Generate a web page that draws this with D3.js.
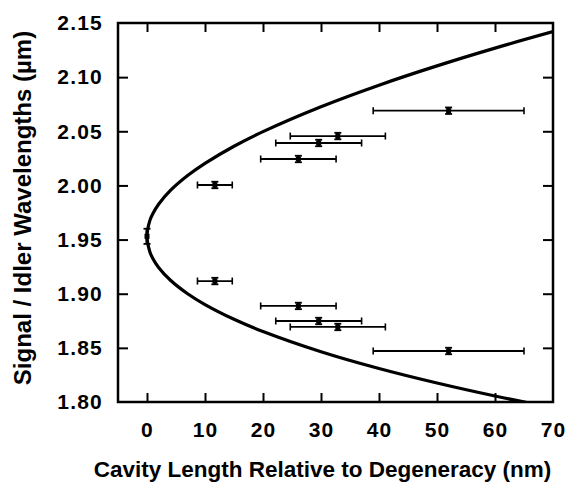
<!DOCTYPE html>
<html>
<head>
<meta charset="utf-8">
<script src="https://cdn.jsdelivr.net/npm/d3@7"></script>
<style>
  html, body { margin: 0; padding: 0; background: #fff; }
  svg { display: block; }
  text { font-family: "Liberation Sans", Arial, Helvetica, sans-serif; fill: #000; }
</style>
</head>
<body>
<svg id="chart" width="567" height="487"></svg>
<script>
// Measured signal / idler wavelength pairs versus cavity length offset
const cavityLength = [11.7, 26.1, 29.6, 32.9, 52.0];
const cavityError  = [3.0, 6.5, 7.4, 8.2, 13.0];
const idlerWavelength  = [2.0004, 2.0244, 2.0392, 2.0456, 2.069];
const signalWavelength = [1.9117, 1.8887, 1.8748, 1.8693, 1.8471];
const wavelengthError = 0.003;

// Degenerate operating point
const degenerateLength = [0];
const degenerateWavelength = [1.953];
const degenerateError = 0.007;

// Calculated tuning curve (upper and lower branches)
const curveLength = [0, 0.5, 1, 2, 4, 7, 10, 15, 20, 30, 40, 50, 60, 70];
const curveUpper  = [1.953, 1.9677, 1.9738, 1.9826, 1.9951, 2.0091, 2.0204, 2.0362, 2.0497, 2.0727, 2.0926, 2.1104, 2.1268, 2.1420];
const curveLower  = [1.953, 1.9386, 1.9326, 1.9243, 1.9127, 1.9000, 1.8900, 1.8764, 1.8651, 1.8464, 1.8309, 1.8175, 1.8055, 1.7947];

// Axis ticks
const xTicks = [0, 10, 20, 30, 40, 50, 60, 70];
const yTicks = [1.80, 1.85, 1.90, 1.95, 2.00, 2.05, 2.10, 2.15];

const svg = d3.select("#chart");
const plotLeft = 118, plotRight = 553, plotTop = 23, plotBottom = 402;

const x = d3.scaleLinear().domain([-5, 70]).range([plotLeft, plotRight]);
const y = d3.scaleLinear().domain([1.80, 2.15]).range([plotBottom, plotTop]);

svg.append("defs").append("clipPath").attr("id", "plot-clip")
  .append("rect").attr("x", plotLeft).attr("y", plotTop)
  .attr("width", plotRight - plotLeft).attr("height", plotBottom - plotTop);

// Tick marks on all four sides, pointing inward
const inner = (v, lo, hi) => v > lo + 1e-9 && v < hi - 1e-9;

const bottomAxis = d3.axisBottom(x).tickValues(xTicks).tickSizeInner(-9).tickSizeOuter(0)
  .tickPadding(20).tickFormat(d3.format("d"));
const gB = svg.append("g").attr("transform", `translate(0,${plotBottom})`).call(bottomAxis);

const leftAxis = d3.axisLeft(y).tickValues(yTicks).tickSizeInner(-10).tickSizeOuter(0)
  .tickPadding(15).tickFormat(d3.format(".2f"));
const gL = svg.append("g").attr("transform", `translate(${plotLeft},0)`).call(leftAxis);

const gT = svg.append("g").attr("transform", `translate(0,${plotTop})`)
  .call(d3.axisTop(x).tickValues(xTicks.filter(v => inner(v, -5, 70)))
    .tickSizeInner(-9).tickSizeOuter(0).tickFormat(""));
const gR = svg.append("g").attr("transform", `translate(${plotRight},0)`)
  .call(d3.axisRight(y).tickValues(yTicks.filter(v => inner(v, 1.80, 2.15)))
    .tickSizeInner(-10).tickSizeOuter(0).tickFormat(""));

[gB, gL, gT, gR].forEach(g => {
  g.select(".domain").remove();
  g.selectAll(".tick line").attr("stroke", "#000").attr("stroke-width", 2);
  g.selectAll(".tick text")
    .style("font-size", "21px").style("font-weight", "bold")
    .style("letter-spacing", "1.2px").attr("fill", "#000");
});
// hide tick marks that coincide with the frame
gB.selectAll(".tick").filter(d => !inner(d, -5, 70)).select("line").remove();
gL.selectAll(".tick").filter(d => !inner(d, 1.80, 2.15)).select("line").remove();

// Frame
svg.append("rect").attr("x", plotLeft).attr("y", plotTop)
  .attr("width", plotRight - plotLeft).attr("height", plotBottom - plotTop)
  .attr("fill", "none").attr("stroke", "#000").attr("stroke-width", 2.5);

// Tuning curve: upper branch from the right edge to the vertex, then the lower branch back out
const curvePts = curveLength.map((l, i) => [l, curveUpper[i]]).reverse()
  .concat(curveLength.slice(1).map((l, i) => [l, curveLower[i + 1]]));
svg.append("path")
  .attr("clip-path", "url(#plot-clip)")
  .attr("d", d3.line().x(d => x(d[0])).y(d => y(d[1])).curve(d3.curveCatmullRom.alpha(0.5))(curvePts))
  .attr("fill", "none").attr("stroke", "#000").attr("stroke-width", 3.2);

// Error-bar points
const points = [];
cavityLength.forEach((l, i) => {
  points.push({ l, dl: cavityError[i], w: idlerWavelength[i], dw: wavelengthError });
  points.push({ l, dl: cavityError[i], w: signalWavelength[i], dw: wavelengthError });
});
degenerateLength.forEach((l, i) => {
  points.push({ l, dl: 0, w: degenerateWavelength[i], dw: degenerateError });
});

const gP = svg.append("g").attr("stroke", "#000");
points.forEach(p => {
  const cx = x(p.l), cy = y(p.w);
  if (p.dl > 0) {
    const x0 = x(p.l - p.dl), x1 = x(p.l + p.dl);
    gP.append("line").attr("x1", x0).attr("x2", x1).attr("y1", cy).attr("y2", cy).attr("stroke-width", 1.8);
    gP.append("line").attr("x1", x0).attr("x2", x0).attr("y1", cy - 3.5).attr("y2", cy + 3.5).attr("stroke-width", 1.6);
    gP.append("line").attr("x1", x1).attr("x2", x1).attr("y1", cy - 3.5).attr("y2", cy + 3.5).attr("stroke-width", 1.6);
  }
  const y0 = y(p.w + p.dw), y1 = y(p.w - p.dw);
  gP.append("line").attr("x1", cx).attr("x2", cx).attr("y1", y0).attr("y2", y1).attr("stroke-width", 3);
  gP.append("line").attr("x1", cx - 3.5).attr("x2", cx + 3.5).attr("y1", y0).attr("y2", y0).attr("stroke-width", 1.8);
  gP.append("line").attr("x1", cx - 3.5).attr("x2", cx + 3.5).attr("y1", y1).attr("y2", y1).attr("stroke-width", 1.8);
  gP.append("rect").attr("x", cx - 2.5).attr("y", cy - 2.5).attr("width", 5).attr("height", 5)
    .attr("fill", "#000").attr("stroke", "none");
});

// Axis titles
svg.append("text")
  .attr("x", (plotLeft + plotRight) / 2 - 13).attr("y", 477)
  .attr("text-anchor", "middle")
  .style("font-size", "22.5px").style("font-weight", "bold")
  .text("Cavity Length Relative to Degeneracy (nm)");

svg.append("text")
  .attr("transform", "translate(31,208) rotate(-90)")
  .attr("text-anchor", "middle")
  .style("font-size", "24px").style("font-weight", "bold")
  .text("Signal / Idler Wavelengths (µm)");
</script>
</body>
</html>
